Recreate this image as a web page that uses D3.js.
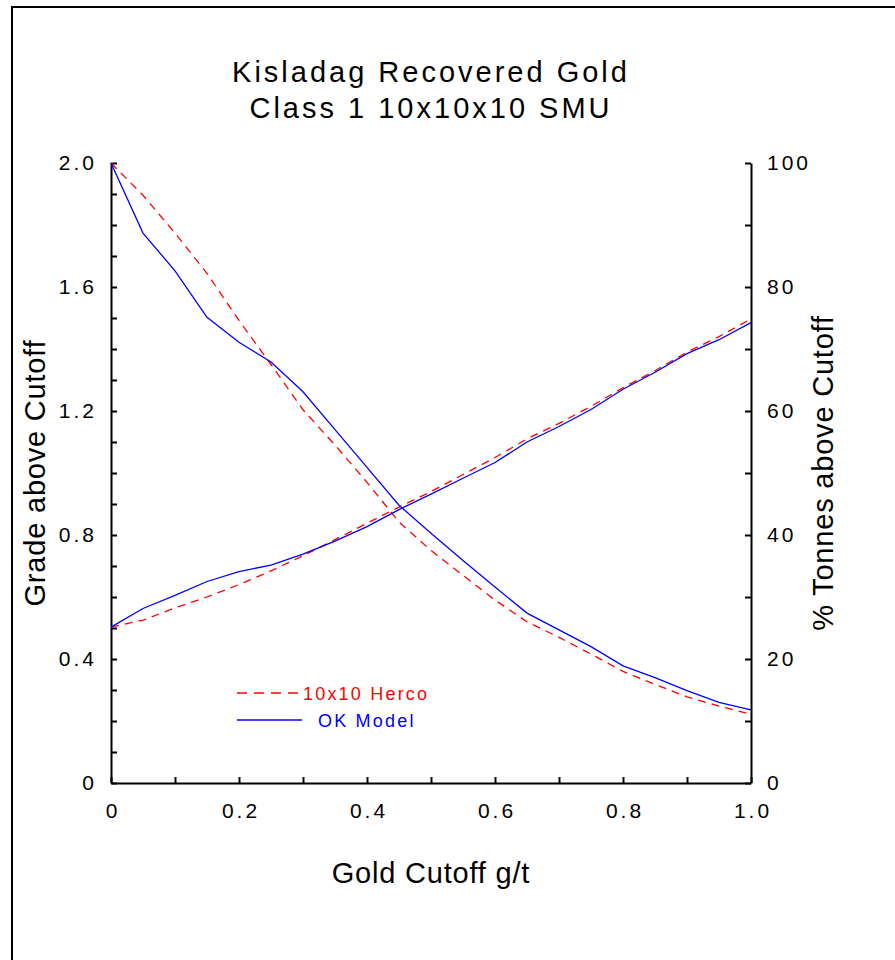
<!DOCTYPE html>
<html>
<head>
<meta charset="utf-8">
<script src="https://cdn.jsdelivr.net/npm/d3@7"></script>
<style>
  html, body { margin: 0; padding: 0; background: #fff; }
  svg { display: block; font-family: "Liberation Sans", Arial, Helvetica, sans-serif; }
</style>
</head>
<body>
<svg id="chart" width="895" height="960"></svg>
<script>
// Cutoff grades (g/t) at which the block models were reported
const cutoffs = [0, 0.05, 0.1, 0.15, 0.2, 0.25, 0.3, 0.35, 0.4, 0.45, 0.5,
                 0.55, 0.6, 0.65, 0.7, 0.75, 0.8, 0.85, 0.9, 0.95, 1.0];

// 10x10 Herco model: grade above cutoff (g/t) and % tonnes above cutoff
const hercoGrade  = [0.503, 0.525, 0.565, 0.600, 0.640, 0.684, 0.733, 0.785, 0.838, 0.890, 0.940,
                     0.995, 1.050, 1.110, 1.160, 1.215, 1.275, 1.330, 1.390, 1.440, 1.497];
const hercoTonnes = [100, 94.8, 88.7, 82.2, 74.6, 67.5, 60.2, 54.5, 48.5, 42.1, 37.5,
                     33.5, 29.5, 26.0, 23.5, 20.8, 18.0, 15.9, 13.9, 12.4, 11.1];

// OK model: grade above cutoff (g/t) and % tonnes above cutoff
const okGrade  = [0.503, 0.563, 0.605, 0.650, 0.682, 0.703, 0.738, 0.780, 0.827, 0.882, 0.932,
                  0.983, 1.034, 1.100, 1.150, 1.205, 1.270, 1.325, 1.385, 1.430, 1.485];
const okTonnes = [100, 88.7, 82.6, 75.1, 71.1, 67.9, 63.1, 57.0, 50.9, 44.8, 40.3,
                  35.9, 31.6, 27.4, 24.7, 22.0, 18.9, 17.0, 14.9, 13.0, 11.8];

// Axis tick labels
const xLabels = ["0", "0.2", "0.4", "0.6", "0.8", "1.0"];
const yLeftLabels = ["0", "0.4", "0.8", "1.2", "1.6", "2.0"];
const yRightLabels = ["0", "20", "40", "60", "80", "100"];

const titleLines = ["Kisladag Recovered Gold", "Class 1 10x10x10 SMU"];
const seriesNames = ["10x10 Herco", "OK Model"];

const svg = d3.select("#chart");
const plot = { left: 111, right: 751, top: 163, bottom: 783 };

const x = d3.scaleLinear().domain([0, 1]).range([plot.left, plot.right]);
const yL = d3.scaleLinear().domain([0, 2]).range([plot.bottom, plot.top]);
const yR = d3.scaleLinear().domain([0, 100]).range([plot.bottom, plot.top]);

// Page frame
svg.append("rect")
  .attr("x", 12).attr("y", 7)
  .attr("width", 1000).attr("height", 1000)
  .attr("fill", "none").attr("stroke", "#000").attr("stroke-width", 2);

// Title
svg.append("g").selectAll("text").data(titleLines).join("text")
  .attr("x", (plot.left + plot.right) / 2)
  .attr("y", (d, i) => 82 + i * 36)
  .attr("text-anchor", "middle")
  .attr("font-size", 29)
  .attr("letter-spacing", 3)
  .attr("fill", "#000")
  .text(d => d);

function styleAxis(g) {
  g.selectAll("path.domain").attr("stroke", "#000").attr("stroke-width", 2);
  g.selectAll(".tick line").attr("stroke", "#000").attr("stroke-width", 2);
  g.selectAll(".tick text")
    .attr("font-size", 21)
    .attr("letter-spacing", 3)
    .attr("fill", "#000");
  g.attr("font-family", null);
}

const labelOf = (labels, step) => v => {
  const i = Math.round(v / step);
  return Math.abs(v - i * step) < 1e-6 ? labels[i] : "";
};

// Bottom axis
svg.append("g")
  .attr("transform", `translate(0,${plot.bottom})`)
  .call(d3.axisBottom(x)
    .tickValues(d3.range(0, 11).map(i => i / 10))
    .tickSizeInner(-6).tickSizeOuter(0).tickPadding(20)
    .tickFormat(labelOf(xLabels, 0.2)))
  .call(styleAxis)
  .call(g => g.selectAll(".tick text").attr("dx", "1.5"));

// Left axis
svg.append("g")
  .attr("transform", `translate(${plot.left},0)`)
  .call(d3.axisLeft(yL)
    .tickValues(d3.range(0, 21).map(i => i / 10))
    .tickSizeInner(-6).tickSizeOuter(0).tickPadding(14)
    .tickFormat(labelOf(yLeftLabels, 0.4)))
  .call(styleAxis);

// Right axis
svg.append("g")
  .attr("transform", `translate(${plot.right},0)`)
  .call(d3.axisRight(yR)
    .tickValues(d3.range(0, 101, 10))
    .tickSizeInner(-6).tickSizeOuter(0).tickPadding(16)
    .tickFormat(labelOf(yRightLabels, 20)))
  .call(styleAxis);

// Axis titles
svg.append("text")
  .attr("x", (plot.left + plot.right) / 2).attr("y", 883)
  .attr("text-anchor", "middle").attr("font-size", 29).attr("letter-spacing", 0.8)
  .text("Gold Cutoff g/t");

svg.append("text")
  .attr("transform", `translate(45,${(plot.top + plot.bottom) / 2}) rotate(-90)`)
  .attr("text-anchor", "middle").attr("font-size", 29).attr("letter-spacing", 0.8)
  .text("Grade above Cutoff");

svg.append("text")
  .attr("transform", `translate(833,${(plot.top + plot.bottom) / 2}) rotate(-90)`)
  .attr("text-anchor", "middle").attr("font-size", 29).attr("letter-spacing", 0.8)
  .text("% Tonnes above Cutoff");

// Curves
const series = [
  { values: hercoGrade, y: yL, color: "#ff0000", dash: "8,6" },
  { values: hercoTonnes, y: yR, color: "#ff0000", dash: "8,6" },
  { values: okGrade, y: yL, color: "#0000ff", dash: null },
  { values: okTonnes, y: yR, color: "#0000ff", dash: null }
];

series.forEach(s => {
  const line = d3.line().x((d, i) => x(cutoffs[i])).y(d => s.y(d));
  svg.append("path")
    .datum(s.values)
    .attr("d", line)
    .attr("fill", "none")
    .attr("stroke", s.color)
    .attr("stroke-width", 1.3)
    .attr("stroke-dasharray", s.dash);
});

// Legend
const legend = svg.append("g").attr("font-size", 18).attr("letter-spacing", 2.2);
const legendItems = [
  { name: seriesNames[0], color: "#ff0000", dash: "10,7", y: 693, tx: 303, x2: 303 },
  { name: seriesNames[1], color: "#0000ff", dash: null, y: 720, tx: 318, x2: 302 }
];
legendItems.forEach(d => {
  legend.append("line")
    .attr("x1", 237).attr("x2", d.x2)
    .attr("y1", d.y).attr("y2", d.y)
    .attr("stroke", d.color).attr("stroke-width", 1.3)
    .attr("stroke-dasharray", d.dash);
  legend.append("text")
    .attr("x", d.tx).attr("y", d.y + 6.5)
    .attr("fill", d.color)
    .text(d.name);
});
</script>
</body>
</html>
